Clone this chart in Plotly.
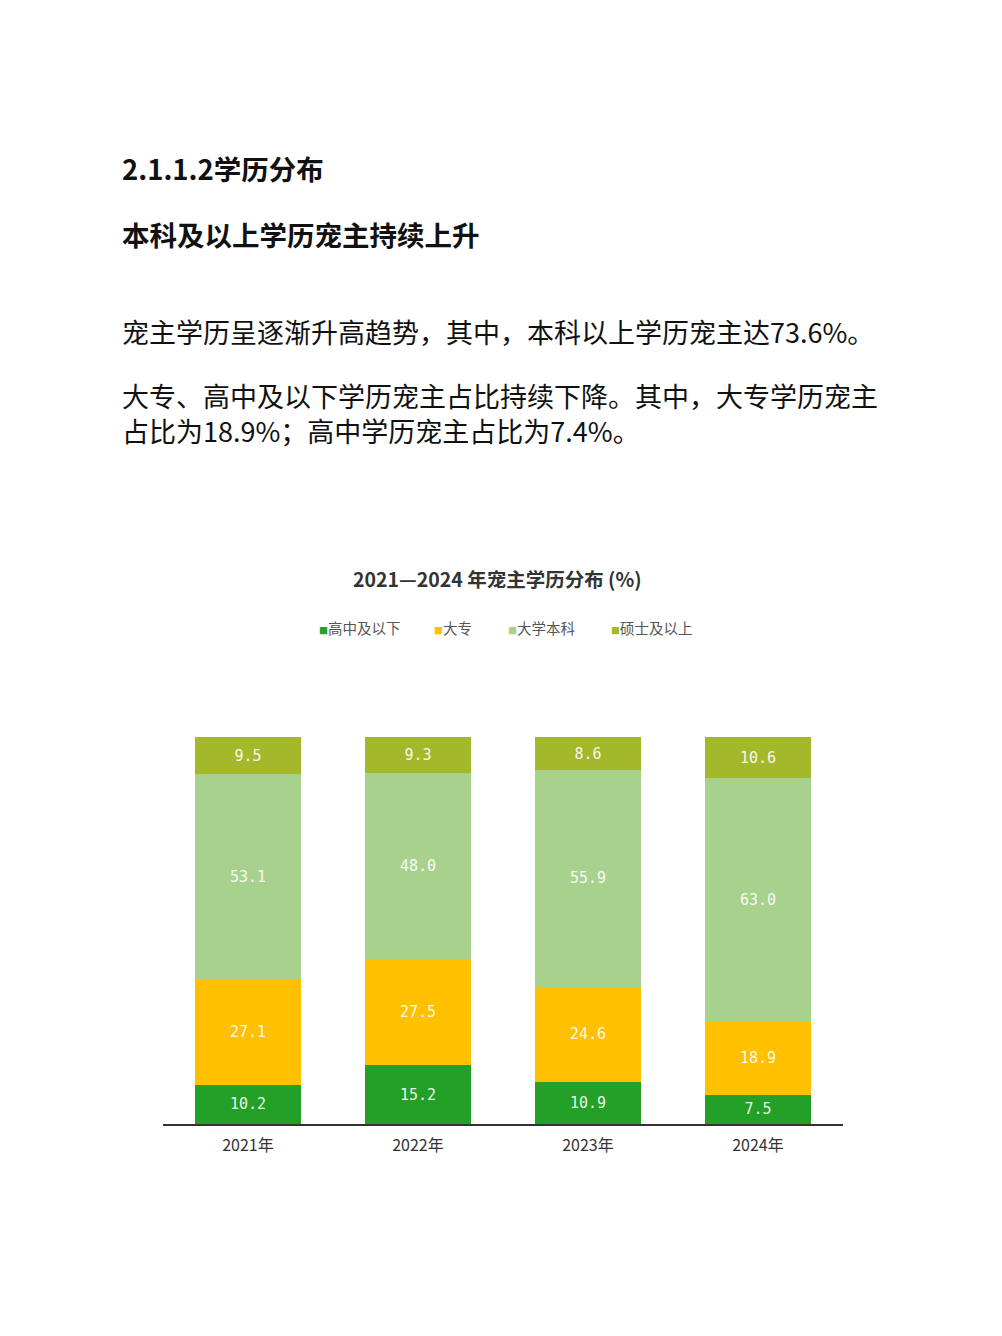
import plotly.graph_objects as go

years = ["2021年", "2022年", "2023年", "2024年"]
series_names = ["高中及以下", "大专", "大学本科", "硕士及以上"]
high_school = [10.2, 15.2, 10.9, 7.5]
junior_college = [27.1, 27.5, 24.6, 18.9]
bachelor = [53.1, 48.0, 55.9, 63.0]
master_plus = [9.5, 9.3, 8.6, 10.6]
series_values = [high_school, junior_college, bachelor, master_plus]
colors = ["#23a027", "#ffc000", "#a9d18e", "#a4b82c"]

OFF = 8  # default page body margin
W, H = 1002 - 2 * OFF, 1336 - 2 * OFF
L, R, T, B = 163 - OFF, 843 - OFF, 737 - OFF, 1124 - OFF  # plot area in figure pixels


def px(x):
    return (x - OFF - L) / (R - L)


def py(y):
    return (B - (y - OFF)) / (B - T)


fig = go.Figure()
for name, vals, c in zip(series_names, series_values, colors):
    fig.add_trace(go.Bar(
        x=years, y=vals, name=name, marker=dict(color=c, line=dict(width=0)),
        texttemplate="%{y:.1f}", textposition="inside", insidetextanchor="middle",
        textfont=dict(family="DejaVu Sans Mono", size=15, color="rgba(255,255,255,0.92)"),
        textangle=0, showlegend=False,
    ))

fig.update_layout(
    width=W, height=H, barmode="stack", bargap=0.376,
    plot_bgcolor="white", paper_bgcolor="white",
    margin=dict(l=L, r=W - R, t=T, b=H - B, pad=0),
    font=dict(family="Noto Sans CJK SC", color="#333"),
    uniformtext=dict(minsize=8, mode="show"),
)
fig.update_xaxes(showline=True, linecolor="#333", linewidth=1.5, ticks="",
                 tickfont=dict(size=16, color="#333", family="Noto Sans CJK SC"),
                 ticklabelstandoff=6,
                 range=[-0.5, 3.5], showgrid=False)
fig.update_yaxes(range=[0, 100], visible=False, showgrid=False)

ann = []
txt_font = "Noto Sans CJK SC"
ann.append(dict(text="<b>2.1.1.2学历分布</b>", x=px(120), y=py(168), xanchor="left", yanchor="middle",
                font=dict(size=27.5, color="#111", family=txt_font)))
ann.append(dict(text="<b>本科及以上学历宠主持续上升</b>", x=px(120), y=py(234), xanchor="left", yanchor="middle",
                font=dict(size=27.5, color="#111", family=txt_font)))
ann.append(dict(text="宠主学历呈逐渐升高趋势，其中，本科以上学历宠主达73.6%。", x=px(120), y=py(332),
                xanchor="left", yanchor="middle", font=dict(size=27, color="#111", family=txt_font)))
ann.append(dict(text="大专、高中及以下学历宠主占比持续下降。其中，大专学历宠主<br>占比为18.9%；高中学历宠主占比为7.4%。",
                x=px(120), y=py(413), xanchor="left", yanchor="middle", align="left",
                font=dict(size=27, color="#111", family=txt_font)))
ann.append(dict(text="<b>2021—2024 年宠主学历分布 (%)</b>", x=px(497), y=py(578), xanchor="center", yanchor="middle",
                font=dict(size=19.5, color="#333", family=txt_font)))

legend_x = [317, 432, 506, 609]
for name, c, lx in zip(series_names, colors, legend_x):
    ann.append(dict(text=f"<span style='color:{c};font-size:9px'>■</span>{name}", x=px(lx), y=py(627),
                    xanchor="left", yanchor="middle", font=dict(size=14.5, color="#555", family=txt_font)))

for a in ann:
    a.update(xref="paper", yref="paper", showarrow=False)
fig.update_layout(annotations=ann)

fig.write_html("out.html")
